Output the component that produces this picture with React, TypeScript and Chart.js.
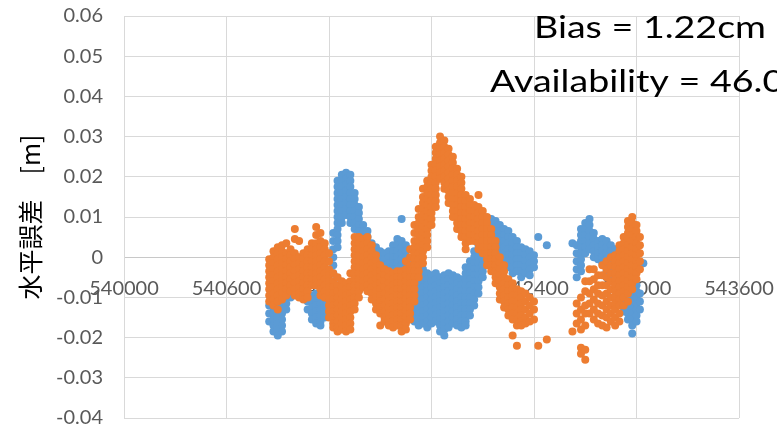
import React, { useEffect, useRef } from "react";
import { Chart, registerables } from "chart.js";

Chart.register(...registerables);

// ---- axis ticks ----
const xTickValues = [540000, 540600, 541200, 541800, 542400, 543000, 543600];
const yTickValues = [-0.04, -0.03, -0.02, -0.01, 0, 0.01, 0.02, 0.03, 0.04, 0.05, 0.06];

// ---- texts ----
const yAxisTitle = "水平誤差　[m]";
const annotationLines = ["Bias = 1.22cm", "Availability = 46.0%"];

// ---- data: [x (m), [horizontal error values in mm]] ----
const blueSeg1: [number, number[]][] = [
  [540850, [-12, -14, -16]],
  [540875, [-11, -12.5, -14, -15.5, -17, -18.5]],
  [540900, [-9, -10.5, -12, -13.5, -15, -16.5, -18, -19.5]],
  [540925, [-8, -9.5, -11, -12.5, -14, -15.5, -17, -18.5]],
  [540950, [-7, -8.5, -10, -11.5, -13]],
  [540975, [-2, -7, -8.5, -10]],
  [541000, [0, -2]],
  [541025, [-1.5]],
  [541075, [-11, -13]],
  [541100, [-9.5, -11, -12.5, -14, -15.5]],
  [541125, [-9, -10.5, -12, -13.5, -15, -16.5]],
  [541150, [-10, -11.5, -13, -14.5, -16, -17]],
  [541175, [-10.5, -12, -13.5, -15]],
  [541200, [-9, -11, -13]],
];
const blueSeg2: [number, number[]][] = [
  [541225, [6, 4, 2, 0, -2, -4, -6, -8.5, -10.5]],
  [541250, [19, 17.5, 16, 14.5, 13, 11.5, 10, 8.5, 7, 5.5, 4, 2.5]],
  [541275, [20.5, 19, 17.5, 16, 14.5, 13, 11.5, 10, 8.5]],
  [541300, [21, 19.5, 18, 16.5, 15, 13.5, 12, 10.5]],
  [541325, [20.5, 19, 17.5, 16, 14.5, 13, 11.5, 10, 8.5]],
  [541350, [16, 14.5, 13, 11.5, 10, 8.5, 7]],
  [541375, [12.5, 11, 9.5, 8, 6.5, 5]],
  [541400, [8, 6.5, 5, 3.5]],
  [541425, [6.5, 5, 3.5, 2]],
  [541450, [3.5, 2, 0.5, -1, -2.5]],
  [541475, [2.5, 1, -0.5, -2, -3.5]],
  [541500, [1.5, 0, -1.5, -3]],
  [541525, [1, -0.5, -2]],
  [541550, [1.5, 0, -1.5, -3]],
  [541575, [3, 1.5, 0, -1.5, -3, -4.5]],
  [541600, [4.5, 3, 1.5, 0, -1.5, -3, -4.5]],
  [541625, [9.5, 4, 2.5, 1, -0.5, -2, -3.5]],
  [541650, [3, 1.5, 0, -1.5, -3, -4.5]],
  [541675, [-1, -3]],
];
const blueSeg3: [number, number[]][] = [
  [541700, [-4, -5.5, -7, -8.5, -10, -11.5, -13, -14.5, -16]],
  [541725, [-3.5, -5, -6.5, -8, -9.5, -11, -12.5, -14, -15.5, -17]],
  [541750, [-3, -4.5, -6, -7.5, -9, -10.5, -12, -13.5, -15, -16.5]],
  [541775, [-4, -5.5, -7, -8.5, -10, -11.5, -13, -14.5, -16, -17.5]],
  [541800, [-4.5, -6, -7.5, -9, -10.5, -12, -13.5, -15, -16.5]],
  [541825, [-4, -5.5, -7, -8.5, -10, -11.5, -13, -14.5, -16]],
  [541850, [-5, -6.5, -8, -9.5, -11, -12.5, -14, -15.5, -17, -18.5]],
  [541875, [-4.5, -6, -7.5, -9, -10.5, -12, -13.5, -15, -16.5, -18, -19.5]],
  [541900, [-4, -5.5, -7, -8.5, -10, -11.5, -13, -14.5, -16, -17.5]],
  [541925, [-4.5, -6, -7.5, -9, -10.5, -12, -13.5, -15, -16.5]],
  [541950, [-5, -6.5, -8, -9.5, -11, -12.5, -14, -15.5, -17]],
  [541975, [-5.5, -7, -8.5, -10, -11.5, -13, -14.5, -16, -17.5]],
  [542000, [-2.5, -4, -5.5, -7, -8.5, -10, -11.5, -13, -14.5, -16, -17]],
  [542025, [-1, -2.5, -4, -5.5, -7, -8.5, -10, -11.5, -13, -14.5]],
  [542050, [1.5, 0, -1.5, -3, -4.5, -6, -7.5, -9, -10.5, -12]],
  [542075, [3, 1.5, 0, -1.5, -3, -4.5, -6, -7.5, -9]],
  [542100, [5.5, 4, 2.5, 1, -0.5, -2, -3.5, -5]],
  [542125, [9, 7.5, 6, 4.5, 3, 1.5, 0, -1.5]],
  [542150, [9.5, 8, 6.5, 5, 3.5, 2, 0.5, -1]],
  [542175, [9, 7.5, 6, 4.5, 3, 1.5, 0]],
  [542200, [8, 6.5, 5, 3.5, 2, 0.5, -1, -2.5]],
  [542225, [7, 5.5, 4, 2.5, 1, -0.5, -2]],
  [542250, [6.5, 5, 3.5, 2, 0.5, -1, -2.5]],
  [542275, [5, 3.5, 2, 0.5, -1, -2.5, -4]],
  [542300, [4, 2.5, 1, -0.5, -2, -3.5]],
  [542325, [2.5, 1, -0.5, -2, -3.5, -5]],
  [542350, [2, 0.5, -1, -2.5, -4]],
  [542375, [1.5, 0, -1.5, -3, -4.5]],
  [542400, [0.5, -1, -2.5]],
  [542425, [5]],
  [542475, [3]],
];
const blueSeg4: [number, number[]][] = [
  [542625, [3.5]],
  [542650, [3, 1, -1, -3, -5]],
  [542675, [7, 5.5, 4, 2.5, 1, -0.5, -2, -3.5]],
  [542700, [8.5, 7, 5.5, 4, 2.5, 1]],
  [542725, [9.5, 8, 6.5, 5, 3.5, 2]],
  [542750, [6, 4.5, 3, 1.5, 0]],
  [542775, [4, 2.5, 1, -0.5]],
  [542800, [4.5, 3, 1.5, 0, -1.5]],
  [542825, [4, 2.5, 1, -0.5, -2, -3.5, -5]],
  [542850, [3, 1.5, 0, -1.5, -3, -4.5]],
  [542875, [2, 0.5, -1, -2.5, -4, -5.5]],
  [542900, [-1, -2.5, -4, -5.5, -7, -8.5, -10]],
  [542925, [-3, -4.5, -6, -7.5, -9, -10.5, -12, -13.5]],
  [542950, [-5, -6.5, -8, -9.5, -11, -12.5, -14, -15.5]],
  [542975, [-8, -9.5, -11, -12.5, -14, -15.5, -17, -19]],
  [543000, [-7, -8.5, -10, -11.5, -13, -14.5, -16]],
  [543020, [-9, -11, -13]],
  [543040, [-1.5]],
];

const orangeSeg1: [number, number[]][] = [
  [540850, [-0.5, -2, -3.5, -5, -6.5, -8, -9.5, -11]],
  [540875, [1.5, 0, -1.5, -3, -4.5, -6, -7.5, -9, -10.5, -12]],
  [540900, [2.5, 1, -0.5, -2, -3.5, -5, -6.5, -8, -9.5, -11, -13]],
  [540925, [3, 1.5, 0, -1.5, -3, -4.5, -6, -7.5, -9, -10.5]],
  [540950, [3.5, 1, -0.5, -2, -3.5, -5, -6.5, -8, -9.5]],
  [540975, [2, 0.5, -1, -2.5, -4, -5.5, -7, -8.5]],
  [541000, [7, 4.5, 1, -0.5, -2, -3.5, -5, -6.5, -8, -9.5]],
  [541025, [4, 0, -1.5, -3, -4.5, -6, -7.5, -9, -10]],
  [541050, [1, -0.5, -2, -3.5, -5, -6.5, -8, -9.5, -10.5]],
  [541075, [2, 0.5, -1, -2.5, -4, -5.5, -7, -8.5, -10]],
  [541100, [3.5, 2, 0.5, -1, -2.5, -4, -5.5, -7]],
  [541125, [7.5, 5.5, 3.5, 2, 0.5, -1, -2.5, -4, -5.5, -7]],
  [541150, [6, 4, 2.5, 1, -0.5, -2, -3.5, -5, -6.5, -8, -9.5]],
  [541175, [3.5, 2, 0.5, -1, -2.5, -4, -5.5, -7, -8.5, -10]],
  [541200, [1, -1, -3, -4.5, -6, -7.5, -9, -10.5, -12, -13.5, -15]],
  [541225, [-4, -6, -7.5, -9, -10.5, -12, -13.5, -15, -16.5, -17.5]],
  [541250, [-5, -7, -8.5, -10, -11.5, -13, -14.5, -16, -17.5, -18.5]],
  [541275, [-6, -7.5, -9, -10.5, -12, -13.5, -15, -16.5, -18]],
  [541300, [-6.5, -8, -9.5, -11, -12.5, -14, -15.5, -17, -18.5]],
  [541325, [-4, -6, -7.5, -9, -10.5, -12, -13.5, -15, -16.5, -18]],
];
const orangeSeg2: [number, number[]][] = [
  [541350, [5, 3.5, 2, 0.5, -1, -2.5, -4, -5.5, -7, -8.5, -10, -11.5, -13]],
  [541375, [5, 3.5, 2, 0.5, -1, -2.5, -4, -5.5, -7, -8.5, -10]],
  [541400, [4.5, 3, 1.5, 0, -1.5, -3, -4.5, -6, -7.5]],
  [541425, [5, 3.5, 2, 0.5, -1, -2.5, -4, -5.5, -7, -8.5]],
  [541450, [3, 1.5, 0, -1.5, -3, -4.5, -6, -7.5, -9, -10.5]],
  [541475, [0.5, -1, -2.5, -4, -5.5, -7, -8.5, -10, -11.5, -13]],
  [541500, [-2, -3.5, -5, -6.5, -8, -9.5, -11, -12.5, -14, -17]],
  [541525, [-3, -4.5, -6, -7.5, -9, -10.5, -12, -13.5, -15, -16]],
  [541550, [-3.5, -5, -6.5, -8, -9.5, -11, -12.5, -14, -15.5, -17]],
  [541575, [-4, -5.5, -7, -8.5, -10, -11.5, -13, -14.5, -16, -17.5]],
  [541600, [-3.5, -5, -6.5, -8, -9.5, -11, -12.5, -14, -15.5, -17]],
  [541625, [-3.5, -5, -6.5, -8, -9.5, -11, -12.5, -14, -15.5, -17, -18.5]],
  [541650, [-1, -3, -4.5, -6, -7.5, -9, -10.5, -12, -13.5, -15, -16.5, -18]],
  [541675, [2, 0, -2, -3.5, -5, -6.5, -8, -9.5, -11, -12.5, -14, -15.5]],
];
const orangeSeg3: [number, number[]][] = [
  [541700, [8, 6, 4, 2.5, 1, -0.5, -2, -3.5, -5, -6.5, -8, -9.5, -11]],
  [541725, [12, 10, 8.5, 7, 5.5, 4, 2.5, 1, -0.5, -2, -3.5, -5]],
  [541750, [17, 15, 13.5, 12, 10.5, 9, 7.5, 6, 4.5, 3, 1.5, 0, -1.5]],
  [541775, [19, 17.5, 16, 14.5, 13, 11.5, 10, 8.5, 7, 5.5, 4, 2.5]],
  [541800, [23, 21.5, 20, 18.5, 17, 15.5, 14, 12.5, 11, 9.5, 8]],
  [541825, [27.5, 26, 24.5, 23, 21.5, 20, 18.5, 17, 15.5, 14, 12.5]],
  [541850, [30, 28.5, 27, 25.5, 24, 22.5, 21, 19.5]],
  [541875, [29, 27.5, 26, 24.5, 23, 21.5, 20, 18.5, 17]],
  [541900, [27, 25.5, 24, 22.5, 21, 19.5, 18, 16.5, 15, 13.5]],
  [541925, [25, 23.5, 22, 20.5, 19, 17.5, 16, 14.5, 13, 11.5, 10]],
  [541950, [22, 20.5, 19, 17.5, 16, 14.5, 13, 11.5, 10, 8.5, 7]],
  [541975, [20, 18.5, 17, 15.5, 14, 12.5, 11, 9.5, 8, 6.5, 5]],
  [542000, [15.5, 14, 12.5, 11, 9.5, 8, 6.5, 5, 3.5, 2]],
  [542025, [14.5, 13, 11.5, 10, 8.5, 7, 5.5, 4]],
  [542050, [13, 11.5, 10, 8.5, 7, 5.5, 4]],
  [542075, [15.5, 12.5, 11, 9.5, 8, 6.5, 5, 3.5, 2]],
  [542100, [11.5, 10, 8.5, 7, 5.5, 4, 2.5, 1]],
  [542125, [10, 8.5, 7, 5.5, 4, 2.5, 1, -0.5, -2]],
  [542150, [7, 5.5, 4, 2.5, 1, -0.5, -2, -3.5]],
  [542175, [4, 2.5, 1, -0.5, -2, -3.5, -5, -6.5]],
  [542200, [0, -1.5, -3, -4.5, -6, -7.5, -9, -10.5]],
  [542225, [-2, -3.5, -5, -6.5, -8, -9.5, -11, -12.5]],
  [542250, [-5.5, -7, -8.5, -10, -11.5, -13, -14.5]],
  [542275, [-6.5, -8, -9.5, -11, -12.5, -14, -15.5, -19.5]],
  [542300, [-8, -9.5, -11, -12.5, -14, -15.5, -17, -22]],
  [542325, [-8.5, -10, -11.5, -13, -14.5, -16, -17]],
  [542350, [-9, -11, -13, -15, -16.5]],
  [542375, [-10, -12, -14, -16]],
  [542400, [-11, -13, -15.5]],
  [542425, [-22]],
  [542475, [-20.5]],
];
const orangeSeg4: [number, number[]][] = [
  [542625, [-18.5]],
  [542650, [-11.5, -14, -16.5]],
  [542675, [-10, -13, -15.5, -18, -22.5, -24]],
  [542700, [-6, -8.5, -12, -14, -17, -23, -25.5]],
  [542725, [-3, -6, -9, -11.5, -14]],
  [542750, [-3, -5.5, -8, -10.5, -13, -15.5]],
  [542775, [-4.5, -7, -9, -11.5, -14, -16.5]],
  [542800, [-2, -4.5, -7, -9.5, -12, -14.5, -17]],
  [542825, [-1, -3, -5, -7, -9, -11, -13, -15, -17.5]],
  [542850, [0, -2, -4, -6, -8, -10, -12, -14, -16]],
  [542875, [0.5, -1, -2.5, -4, -5.5, -7, -8.5, -10, -11.5, -13, -15, -17]],
  [542900, [3, 1.5, 0, -1.5, -3, -4.5, -6, -7.5, -9, -10.5, -12, -14, -16]],
  [542925, [5, 3.5, 2, 0.5, -1, -2.5, -4, -5.5, -7, -8.5, -10, -12]],
  [542950, [9, 7.5, 6, 4.5, 3, 1.5, 0, -1.5, -3, -4.5, -6, -7.5, -9, -11]],
  [542975, [10, 8.5, 7, 5.5, 4, 2.5, 1, -0.5, -2, -3.5, -5, -6.5, -8]],
  [543000, [8, 6.5, 5, 3.5, 2, 0.5, -1, -2.5, -4, -5.5]],
  [543020, [5, 3, 1, -1, -3]],
];

const blueColumns = [...blueSeg1, ...blueSeg2, ...blueSeg3, ...blueSeg4];
const orangeColumns = [...orangeSeg1, ...orangeSeg2, ...orangeSeg3, ...orangeSeg4];

function toPoints(cols: [number, number[]][]) {
  const pts: { x: number; y: number }[] = [];
  for (const [x, ys] of cols) for (const mm of ys) pts.push({ x, y: mm / 1000 });
  return pts;
}

const TICK_FONT = { family: "Lato, 'Open Sans', sans-serif", size: 20 };
const GRID = "#d9d9d9";

const zeroPadding = (s: any) => {
  s.paddingLeft = 0;
  s.paddingRight = 0;
  s.paddingTop = 0;
  s.paddingBottom = 0;
};

const annotationPlugin = {
  id: "annotationText",
  afterDraw(chart: any) {
    const ctx = chart.ctx as CanvasRenderingContext2D;
    ctx.save();
    ctx.font = "30px Lato, 'Open Sans', sans-serif";
    ctx.fillStyle = "#000000";
    ctx.textBaseline = "alphabetic";
    ctx.textAlign = "left";
    const w = ctx.measureText(annotationLines[0]).width;
    const sx = 232 / w;
    const spots = [
      [534, 38],
      [490, 92],
    ];
    annotationLines.forEach((t, i) => {
      ctx.save();
      ctx.translate(spots[i][0], spots[i][1]);
      ctx.scale(sx, 1);
      ctx.fillText(t, 0, 0);
      ctx.restore();
    });
    ctx.restore();
  },
};

export default function App() {
  const ref = useRef<HTMLCanvasElement | null>(null);
  useEffect(() => {
    if (!ref.current) return;
    const chart = new Chart(ref.current, {
      type: "scatter",
      data: {
        datasets: [
          {
            label: "orange",
            data: toPoints(orangeColumns),
            backgroundColor: "#ED7D31",
            borderWidth: 0,
            pointRadius: 4,
            order: 0,
          },
          {
            label: "blue",
            data: toPoints(blueColumns),
            backgroundColor: "#5B9BD5",
            borderWidth: 0,
            pointRadius: 4,
            order: 1,
          },
        ],
      },
      options: {
        animation: false,
        responsive: false,
        layout: { padding: { left: 0, right: 38, top: 16, bottom: 15 } },
        plugins: { legend: { display: false }, tooltip: { enabled: false } },
        scales: {
          x: {
            type: "linear",
            min: 540000,
            max: 543600,
            position: { y: 0 } as any,
            afterBuildTicks: (s: any) => {
              s.ticks = xTickValues.map((v) => ({ value: v }));
            },
            afterFit: zeroPadding,
            ticks: {
              callback: (v: any) => String(v),
              autoSkip: false,
              maxRotation: 0,
              font: TICK_FONT,
              color: "#595959",
              padding: 19,
            },
            grid: { color: GRID, drawTicks: false, lineWidth: 1 },
            border: { display: true, color: "#c8c8c8" },
          },
          y: {
            type: "linear",
            min: -0.04,
            max: 0.06,
            afterBuildTicks: (s: any) => {
              s.ticks = yTickValues.map((v) => ({ value: v }));
            },
            afterFit: (s: any) => {
              s.width = 124;
              zeroPadding(s);
            },
            ticks: {
              callback: (v: any) => String(Math.round(Number(v) * 100) / 100),
              font: TICK_FONT,
              color: "#595959",
              padding: 21,
            },
            grid: { color: GRID, drawTicks: false, lineWidth: 1 },
            border: { display: true, color: GRID },
            title: {
              display: true,
              text: yAxisTitle,
              color: "#000000",
              font: { family: "'Noto Sans CJK JP', sans-serif", size: 25 },
              padding: { top: 15, bottom: 0 },
            },
          },
        },
      },
      plugins: [annotationPlugin],
    });
    return () => chart.destroy();
  }, []);
  return (
    <div style={{ position: "absolute", left: 0, top: 0, width: 777, height: 433, background: "#fff" }}>
      <canvas ref={ref} width={777} height={433} style={{ display: "block" }} />
    </div>
  );
}
